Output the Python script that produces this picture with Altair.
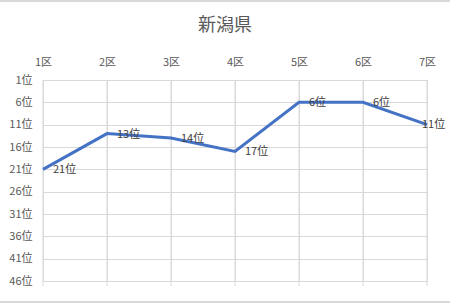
import altair as alt
import pandas as pd

districts = ["1区", "2区", "3区", "4区", "5区", "6区", "7区"]
ranks = [21, 13, 14, 17, 6, 6, 11]
rank_ticks = [1, 6, 11, 16, 21, 26, 31, 36, 41, 46]
title_text = ["新潟県"]

df = pd.DataFrame({"district": districts, "rank": ranks})
df["label"] = df["rank"].astype(str) + "位"

FONT = "Noto Sans CJK JP"
TXT = "#595959"
GRID = "#d9d9d9"

x_enc = alt.X(
    "district:N",
    sort=districts,
    scale=alt.Scale(type="point", padding=0, domain=districts),
    axis=alt.Axis(orient="top", title=None, labelAngle=0, grid=True, gridColor=GRID,
                  ticks=False, domain=False, labelPadding=13, labelFontSize=11,
                  labelColor=TXT, labelFont=FONT),
)
y_enc = alt.Y(
    "rank:Q",
    scale=alt.Scale(domain=[1, 46], reverse=True, nice=False, zero=False),
    axis=alt.Axis(values=rank_ticks, labelExpr="datum.value + '位'", title=None,
                  grid=True, gridColor=GRID, ticks=False, domain=False,
                  labelOverlap=False, labelPadding=11, labelFontSize=11,
                  labelColor=TXT, labelFont=FONT),
)

base = alt.Chart(df)

vgrid = base.mark_rule(color=GRID, strokeWidth=1).encode(
    x=x_enc, y=alt.value(0), y2=alt.value(206)
)

line = base.mark_line(color="#4472C4", strokeWidth=3).encode(x=x_enc, y=y_enc)

labels = base.transform_filter(alt.datum.district != "7区").mark_text(
    align="left", baseline="middle", dx=10, dy=1, fontSize=11, font=FONT, color="#404040"
).encode(x=x_enc, y=y_enc, text="label:N")

labels_last = base.transform_filter(alt.datum.district == "7区").mark_text(
    align="left", baseline="middle", dx=-5, dy=0, fontSize=11, font=FONT, color="#404040"
).encode(x=x_enc, y=y_enc, text="label:N")

title_df = pd.DataFrame({"t": title_text})
title = alt.Chart(title_df).mark_text(
    align="center", baseline="middle", fontSize=18, font=FONT, color=TXT
).encode(x=alt.value(182), y=alt.value(-54), text="t:N")

border_top = base.mark_rule(color=GRID, strokeWidth=1.5).encode(
    x=alt.value(-43), x2=alt.value(407), y=alt.value(-79)
)
border_bottom = base.mark_rule(color=GRID, strokeWidth=1.5).encode(
    x=alt.value(-43), x2=alt.value(407), y=alt.value(222)
)

chart = alt.layer(vgrid, line, labels, labels_last, title, border_top, border_bottom).properties(
    width=384,
    height=201,
    autosize=alt.AutoSizeParams(type="none"),
    padding={"left": 43, "top": 80, "right": 23, "bottom": 24},
).configure_view(stroke=None).configure(background="white")

chart.save("out.html", embed_options={"renderer": "svg", "actions": False})
